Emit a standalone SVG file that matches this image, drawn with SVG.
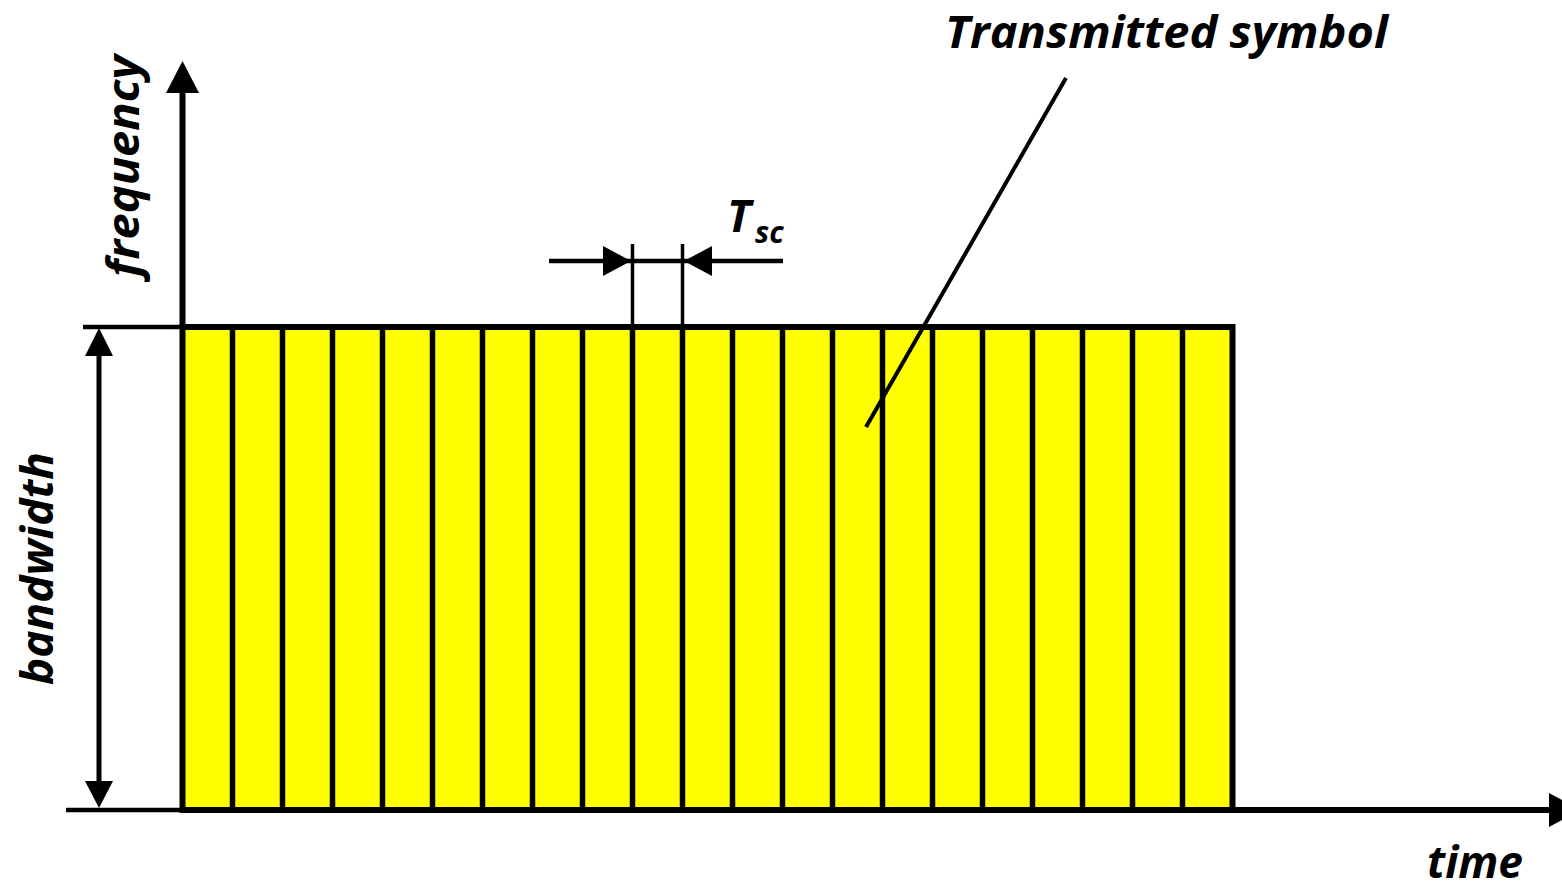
<svg xmlns="http://www.w3.org/2000/svg" width="1562" height="883" viewBox="0 0 1562 883">
<style>
.lbl{font-family:"Open Sans","Noto Sans","Liberation Sans",sans-serif;font-style:italic;font-weight:700;font-size:45px;fill:#000}
.ln{stroke:#000;fill:none}
.head{fill:#000;stroke:none}
.strip{fill:#ffff00;stroke:#000;stroke-width:6}
.div{stroke:#000;stroke-width:5.5}
</style>
<rect width="1562" height="883" fill="#fff"/>
<g id="symbol">
<rect class="strip" x="182.5" y="327" width="1050" height="483"/>
<g class="div">
<line x1="232.5" y1="327" x2="232.5" y2="810"/>
<line x1="282.5" y1="327" x2="282.5" y2="810"/>
<line x1="332.5" y1="327" x2="332.5" y2="810"/>
<line x1="382.5" y1="327" x2="382.5" y2="810"/>
<line x1="432.5" y1="327" x2="432.5" y2="810"/>
<line x1="482.5" y1="327" x2="482.5" y2="810"/>
<line x1="532.5" y1="327" x2="532.5" y2="810"/>
<line x1="582.5" y1="327" x2="582.5" y2="810"/>
<line x1="632.5" y1="327" x2="632.5" y2="810"/>
<line x1="682.5" y1="327" x2="682.5" y2="810"/>
<line x1="732.5" y1="327" x2="732.5" y2="810"/>
<line x1="782.5" y1="327" x2="782.5" y2="810"/>
<line x1="832.5" y1="327" x2="832.5" y2="810"/>
<line x1="882.5" y1="327" x2="882.5" y2="810"/>
<line x1="932.5" y1="327" x2="932.5" y2="810"/>
<line x1="982.5" y1="327" x2="982.5" y2="810"/>
<line x1="1032.5" y1="327" x2="1032.5" y2="810"/>
<line x1="1082.5" y1="327" x2="1082.5" y2="810"/>
<line x1="1132.5" y1="327" x2="1132.5" y2="810"/>
<line x1="1182.5" y1="327" x2="1182.5" y2="810"/>
</g>
</g>
<g id="connectors">
<line class="ln" x1="182.5" y1="327" x2="182.5" y2="90" stroke-width="6"/>
<polygon class="head" points="182.5,61 166,93 199,93"/>
<line class="ln" x1="1232" y1="810" x2="1552" y2="810" stroke-width="6"/>
<polygon class="head" points="1581,810 1549,793 1549,827"/>
<line class="ln" x1="83" y1="327" x2="182" y2="327" stroke-width="4.5"/>
<line class="ln" x1="66" y1="810" x2="182" y2="810" stroke-width="4.5"/>
<line class="ln" x1="99" y1="350" x2="99" y2="786" stroke-width="5"/>
<polygon class="head" points="99,328 85,356 113,356"/>
<polygon class="head" points="99,808 85,781 113,781"/>
<line class="ln" x1="632.5" y1="244" x2="632.5" y2="327" stroke-width="3.5"/>
<line class="ln" x1="682.5" y1="244" x2="682.5" y2="327" stroke-width="3.5"/>
<line class="ln" x1="549" y1="261" x2="783" y2="261" stroke-width="4.5"/>
<polygon class="head" points="631,261 603,246 603,276"/>
<polygon class="head" points="684,261 712,246 712,276"/>
<line class="ln" x1="1066" y1="78" x2="866" y2="427" stroke-width="4"/>
</g>
<g id="labels">
<text class="lbl" x="945" y="48" textLength="443" lengthAdjust="spacingAndGlyphs">Transmitted symbol</text>
<text class="lbl" transform="translate(139,277) rotate(-90)" x="0" y="0" textLength="222" lengthAdjust="spacingAndGlyphs">frequency</text>
<text class="lbl" transform="translate(53,685) rotate(-90)" x="0" y="0" textLength="233" lengthAdjust="spacingAndGlyphs">bandwidth</text>
<text class="lbl" x="1427" y="878" textLength="96" lengthAdjust="spacingAndGlyphs">time</text>
<text class="lbl" x="727" y="232">T</text>
<text class="lbl" x="755" y="243" style="font-size:30px">sc</text>
</g>
</svg>
